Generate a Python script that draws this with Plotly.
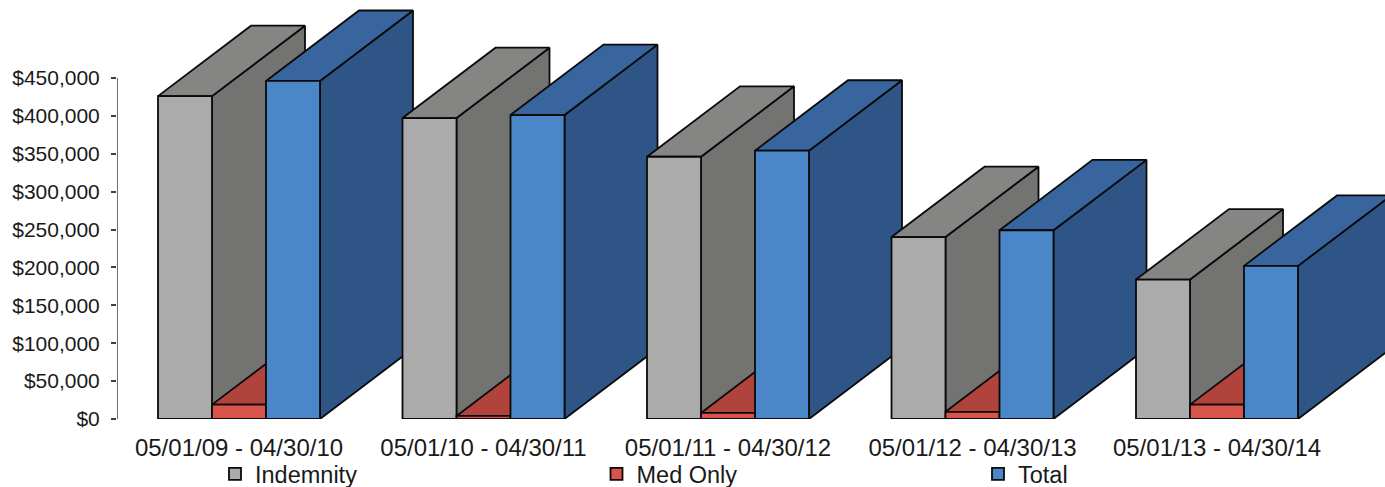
import plotly.graph_objects as go

periods = ["05/01/09 - 04/30/10", "05/01/10 - 04/30/11", "05/01/11 - 04/30/12",
           "05/01/12 - 04/30/13", "05/01/13 - 04/30/14"]
indemnity = [426000, 397000, 346000, 240000, 184000]
med_only = [19000, 4000, 8000, 9500, 19000]
total = [446000, 401000, 354000, 249000, 202000]
y_ticks = [0, 50000, 100000, 150000, 200000, 250000, 300000, 350000, 400000, 450000]
y_labels = ["$0", "$50,000", "$100,000", "$150,000", "$200,000", "$250,000",
            "$300,000", "$350,000", "$400,000", "$450,000"]

series = [
    ("Indemnity", indemnity, "#ABABAB", "#737371", "#858583"),
    ("Med Only", med_only, "#D8534A", "#A53C35", "#B0433B"),
    ("Total", total, "#4A86C8", "#2E5586", "#38659E"),
]

W = 1385
H = 487
L = 117
BASE = 419.5
PX_PER_CAT = 244.5
PX_PER_USD = 341.5 / 450000
FIRST_CENTER = 239

bar_w = 54 / PX_PER_CAT
dx = 93 / PX_PER_CAT
dy = 70.5 / PX_PER_USD
EDGE = dict(color="#0a0a0a", width=1.8)

fig = go.Figure()


def face(xs, ys, color, z):
    fig.add_trace(go.Scatter(x=xs, y=ys, mode="lines", fill="toself", fillcolor=color,
                             line=EDGE, showlegend=False, hoverinfo="skip", zorder=z))


for i in range(len(periods)):
    for j, (name, vals, front, side, top) in enumerate(series):
        c = i + (j - 1) * bar_w
        x0, x1 = c - bar_w / 2, c + bar_w / 2
        v = vals[i]
        z = 10 * i + 2 * j
        face([x1, x1 + dx, x1 + dx, x1, x1], [0, dy, v + dy, v, 0], side, z)
        face([x0, x0 + dx, x1 + dx, x1, x0], [v, v + dy, v + dy, v, v], top, z)
        fig.add_trace(go.Bar(x=[c], y=[v], width=bar_w, name=name, legendgroup=name,
                             showlegend=i == 0, marker=dict(color=front, line=EDGE),
                             hoverinfo="skip", zorder=z + 1))

x_low = (L - FIRST_CENTER) / PX_PER_CAT
# vertical axis line runs only from $0 to the top tick
fig.add_trace(go.Scatter(x=[x_low, x_low], y=[y_ticks[0], y_ticks[-1]], mode="lines",
                         line=dict(color="#404040", width=1.5), showlegend=False,
                         hoverinfo="skip", cliponaxis=False, zorder=100))

fig.update_layout(
    width=W, height=H, autosize=False, barmode="overlay",
    margin=dict(l=L, r=0, t=0, b=H - BASE, pad=0, autoexpand=False),
    paper_bgcolor="white", plot_bgcolor="white",
    font=dict(family="Liberation Sans, Arial, sans-serif", color="#1a1a1a"),
    xaxis=dict(range=[x_low, (W - FIRST_CENTER) / PX_PER_CAT], tickmode="array",
               tickvals=list(range(len(periods))), ticktext=periods,
               tickfont=dict(size=24), showgrid=False, zeroline=False, showline=False,
               ticks="", ticklabelstandoff=12),
    yaxis=dict(range=[0, BASE / PX_PER_USD], tickmode="array", tickvals=y_ticks,
               ticktext=y_labels, tickfont=dict(size=21), showgrid=False, zeroline=False,
               showline=False, ticks="outside", ticklen=5, tickcolor="#404040",
               tickwidth=1.5, ticklabelstandoff=7),
    legend=dict(orientation="h", xref="container", yref="container",
                x=215 / W, xanchor="left", y=1 - 452 / H, yanchor="top",
                entrywidth=336.5, entrywidthmode="pixels", font=dict(size=23.5),
                bgcolor="rgba(0,0,0,0)", itemclick=False, itemdoubleclick=False,
                traceorder="normal"),
)

fig.write_html("out.html", config=dict(displayModeBar=False),
               post_script="document.body.style.margin='0';document.body.style.overflow='hidden';")
